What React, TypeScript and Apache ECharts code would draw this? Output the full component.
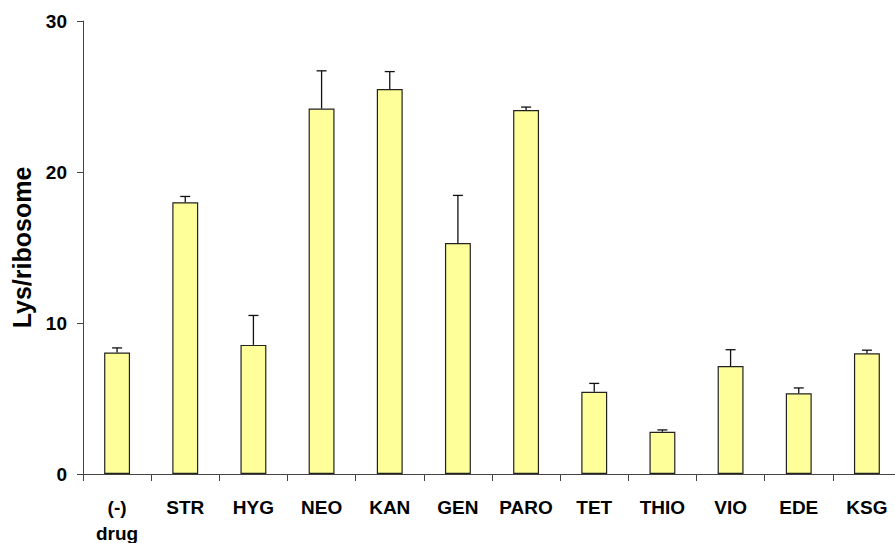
import React, { useEffect, useRef } from "react";
import * as echarts from "echarts";

const categories = ["(-)\ndrug", "STR", "HYG", "NEO", "KAN", "GEN", "PARO", "TET", "THIO", "VIO", "EDE", "KSG"];
const values = [8.05, 18.0, 8.55, 24.2, 25.5, 15.3, 24.1, 5.45, 2.8, 7.15, 5.35, 8.0];
const errors = [0.3, 0.38, 1.95, 2.5, 1.15, 3.15, 0.2, 0.55, 0.12, 1.08, 0.35, 0.2];
const yTicks = [0, 10, 20, 30];

const FONT = "Liberation Sans, Arial, sans-serif";

export default function App() {
  const ref = useRef<HTMLDivElement>(null);
  useEffect(() => {
    if (!ref.current) return;
    const chart = echarts.init(ref.current, undefined, { renderer: "svg" });
    chart.setOption({
      animation: false,
      backgroundColor: "#ffffff",
      grid: { left: 83, top: 21, width: 818, height: 453, containLabel: false, outerBoundsMode: "none" },
      xAxis: {
        type: "category",
        data: categories,
        boundaryGap: true,
        axisLine: { lineStyle: { color: "#444", width: 1 } },
        axisTick: { show: true, length: 7, lineStyle: { color: "#444" } },
        axisLabel: {
          color: "#000",
          fontWeight: "bold",
          fontSize: 19,
          fontFamily: FONT,
          margin: 20,
          lineHeight: 26,
          interval: 0,
        },
      },
      yAxis: {
        type: "value",
        min: yTicks[0],
        max: yTicks[yTicks.length - 1],
        interval: 10,
        name: "Lys/ribosome",
        nameLocation: "middle",
        nameRotate: 90,
        nameGap: 49,
        nameTextStyle: { color: "#000", fontWeight: "bold", fontSize: 25, fontFamily: FONT },
        splitLine: { show: false },
        axisLine: { show: true, lineStyle: { color: "#444", width: 1 } },
        axisTick: { show: true, length: 6, lineStyle: { color: "#444" } },
        axisLabel: {
          color: "#000",
          fontWeight: "bold",
          fontSize: 19,
          fontFamily: FONT,
          margin: 16,
        },
      },
      series: [
        {
          type: "bar",
          data: values,
          barWidth: "38%",
          itemStyle: { color: "#FFFF99", borderColor: "#222", borderWidth: 1.2 },
        },
        {
          type: "custom",
          data: values.map((v, i) => [i, v, v + errors[i]]),
          z: 10,
          renderItem: (params: any, api: any) => {
            const x = api.value(0);
            const base = api.coord([x, api.value(1)]);
            const top = api.coord([x, api.value(2)]);
            const half = 5;
            return {
              type: "group",
              children: [
                {
                  type: "line",
                  shape: { x1: base[0], y1: base[1], x2: top[0], y2: top[1] },
                  style: { stroke: "#111", lineWidth: 1.3 },
                },
                {
                  type: "line",
                  shape: { x1: top[0] - half, y1: top[1], x2: top[0] + half, y2: top[1] },
                  style: { stroke: "#111", lineWidth: 1.3 },
                },
              ],
            };
          },
        },
      ],
    });
    return () => chart.dispose();
  }, []);
  return (
    <div
      ref={ref}
      style={{ position: "absolute", left: 0, top: 0, width: 895, height: 543, background: "#fff" }}
    />
  );
}
